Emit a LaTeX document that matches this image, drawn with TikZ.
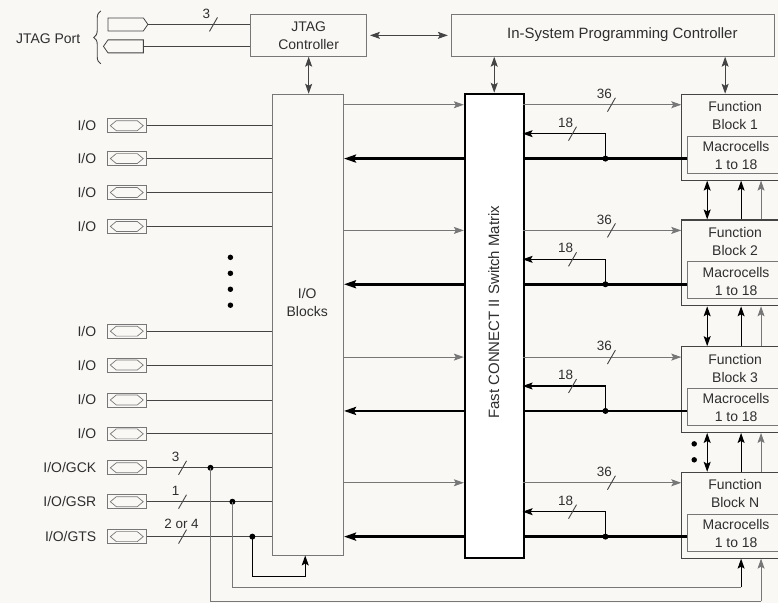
\documentclass[tikz,border=0pt]{standalone}
\usepackage{fontspec}
\setmainfont{Liberation Sans}
\usetikzlibrary{arrows.meta,shapes.symbols,decorations.pathreplacing}
\definecolor{bg}{HTML}{F9F8F5}
\definecolor{txt}{HTML}{2E2E2E}
\definecolor{ln}{HTML}{444444}
\definecolor{lt}{HTML}{777777}
\newcommand{\pinrow}[3]{%
  \node[pin] (#1) at (126.5,#2) {};
  \draw[lt, line width=0.7pt] ([xshift=3pt]#1.west) -- ++(6,-5) -- ++(21,0) -- ++(6,5) -- ++(-6,5) -- ++(-21,0) -- cycle;
  \node[anchor=east] (#1l) at (99,#2) {#3};
  \draw[thinln] (#1) -- (iob.west |- #1);}
\newcommand{\busslash}[3]{%
  \draw[thinln] (#1-4,#2+7) -- (#1+4,#2-7);
  \node[font=\fontsize{13.5}{15}\selectfont] at (#1-7,#2-11) {#3};}
\begin{document}
\begin{tikzpicture}[x=1pt,y=-1pt,
  font=\fontsize{14}{18}\selectfont, text=txt,
  box/.style={draw=lt, line width=0.9pt, inner sep=0pt},
  thinln/.style={draw=ln, line width=0.9pt},
  grayln/.style={draw=lt, line width=0.9pt},
  bus/.style={draw=black, line width=2.8pt},
  arr/.style={-{Stealth[length=10pt,width=7pt,inset=2pt]}},
  darr/.style={{Stealth[length=10pt,width=7pt,inset=2pt]}-{Stealth[length=10pt,width=7pt,inset=2pt]}},
  barr/.style={-{Stealth[length=12pt,width=8pt,inset=2pt]}},
  jdot/.style={circle, fill=black, inner sep=0pt, minimum size=6pt},
  sdot/.style={circle, fill=black, inner sep=0pt, minimum size=5.5pt},
  sig/.style={signal, draw=ln, line width=0.8pt, minimum width=40pt, minimum height=13pt, inner sep=0pt, signal pointer angle=110},
  pin/.style={draw=lt, line width=0.8pt, minimum width=39pt, minimum height=14pt, inner sep=0pt},
  fbbox/.style={draw=ln, line width=1.1pt, inner sep=0pt, minimum width=110pt, minimum height=86pt},
  mcbox/.style={draw=lt, line width=0.9pt, inner sep=0pt, minimum width=100pt, minimum height=37pt},
]
\fill[bg] (-1,-1) rectangle (779,604);
\useasboundingbox (0,0) rectangle (778,603);

% ---- JTAG port ----
\node[sig, signal to=east] (tdi) at (125,23.5) {};
\node[sig, signal to=west] (tdo) at (125,45.5) {};
\draw[ln, line width=0.9pt, decorate, decoration={brace, amplitude=7pt}] (100,63) -- (100,10);
\node[anchor=east] (jport) at (83,38) {JTAG Port};

\node[box, anchor=north west, minimum width=116pt, minimum height=42pt, align=center] (jtag) at (250,13) {JTAG\\Controller};
\draw[thinln] (tdi.east) -- (jtag.west |- tdi.east);
\draw[thinln] (tdo.east) -- (jtag.west |- tdo.east);
\busslash{213}{23.5}{3}

\node[box, anchor=north west, minimum width=324pt, minimum height=42pt] (isp) at (451,13) {};
\node[font=\fontsize{15}{18}\selectfont] (ispt) at (623,34) {In-System Programming Controller};
\draw[thinln, darr, shorten <=3pt, shorten >=3pt] (jtag.east) -- (isp.west |- jtag.east);

% ---- I/O blocks and switch matrix ----
\node[box, anchor=north west, minimum width=71pt, minimum height=462pt] (iob) at (272,93) {};
\node[align=center] (iobt) at (307,302) {I/O\\Blocks};
\node[draw=black, line width=2pt, fill=white, anchor=north west, minimum width=59pt, minimum height=465pt] (sm) at (464,92) {};
\node[rotate=90, font=\fontsize{15}{18}\selectfont] (smt) at (494,312) {Fast CONNECT II Switch Matrix};

\draw[thinln, darr] (jtag.south) -- (jtag.south |- iob.north);
\draw[thinln, darr] (isp.south -| sm.north) -- (sm.north);
\coordinate (fbtop) at (726,93);
\draw[thinln, darr] (isp.south -| fbtop) -- (fbtop);

% ---- function blocks ----
\foreach \t/\n in {93/1, 219/2, 346/3, 472/N} {
  \node[fbbox, anchor=north west] (fb\n) at (682,\t) {};
  \node[mcbox, anchor=north west] (mc\n) at (688,\t+42) {};
  \node[align=center] (fbt\n) at (736,\t+22) {Function\\Block \n};
  \node[align=center] (mct\n) at (737,\t+62) {Macrocells\\1 to 18};
  \coordinate (a\n) at (523,\t+11);
  \draw[grayln, arr] (a\n) -- (fb\n.west |- a\n);
  \busslash{612}{\t+11}{36}
  \coordinate (b\n) at (606,\t+65);
  \coordinate (c\n) at (523,\t+40);
  \draw[bus] (sm.east |- b\n) -- (mc\n.west |- b\n);
  \draw[draw=black, line width=1.1pt, arr] (b\n) |- (c\n);
  \node[jdot] at (b\n) {};
  \busslash{573}{\t+40}{18}
  \coordinate (l\n) at (464,\t+11);
  \draw[grayln, arr] (iob.east |- l\n) -- (l\n);
  \draw[bus, barr] (sm.west |- b\n) -- (iob.east |- b\n);
}
\coordinate (dx) at (708,0);
\coordinate (ux) at (742,0);
\coordinate (vx) at (762,0);
\foreach \p/\q in {1/2, 2/3, 3/N} {
  \draw[draw=black, line width=1.1pt, darr] (fb\p.south -| dx) -- (fb\q.north -| dx);
  \draw[draw=black, line width=1.1pt, arr] (fb\q.north -| ux) -- (fb\p.south -| ux);
  \draw[grayln, arr] (fb\q.north -| vx) -- (fb\p.south -| vx);
}
\node[sdot] (fd1) at (695,444) {};
\node[sdot] (fd2) at (695,460) {};

% ---- pins ----
\pinrow{p1}{125}{I/O}
\pinrow{p2}{158}{I/O}
\pinrow{p3}{192}{I/O}
\pinrow{p4}{226}{I/O}
\pinrow{p5}{331}{I/O}
\pinrow{p6}{365}{I/O}
\pinrow{p7}{400}{I/O}
\pinrow{p8}{434}{I/O}
\pinrow{gck}{468}{I/O/GCK}
\pinrow{gsr}{502}{I/O/GSR}
\pinrow{gts}{537}{I/O/GTS}
\foreach \y in {257,273,289,305} { \node[sdot] at (230,\y) {}; }
\busslash{182}{468}{3}
\busslash{182}{502}{1}
\node[font=\fontsize{13.5}{15}\selectfont] (gtsn) at (181,524) {2 or 4};
\draw[thinln] (178,544) -- (186,530);

\node[jdot] (jgck) at (210,468) {};
\node[jdot] (jgsr) at (232,502) {};
\node[jdot] (jgts) at (252,537) {};
\coordinate (rgts) at (305,577);
\coordinate (rgsr) at (742,588);
\coordinate (rgck) at (762,602);
\draw[draw=black, line width=1.1pt] (jgts.center) |- (rgts);
\draw[draw=black, line width=1.1pt, arr] (rgts) -- (rgts |- iob.south);
\draw[grayln] (jgsr.center) |- (rgsr);
\draw[draw=black, line width=1.1pt, arr] (rgsr) -- (rgsr |- fbN.south);
\draw[grayln] (jgck.center) |- (rgck);
\draw[grayln, arr] (rgck) -- (rgck |- fbN.south);
\end{tikzpicture}
\end{document}
